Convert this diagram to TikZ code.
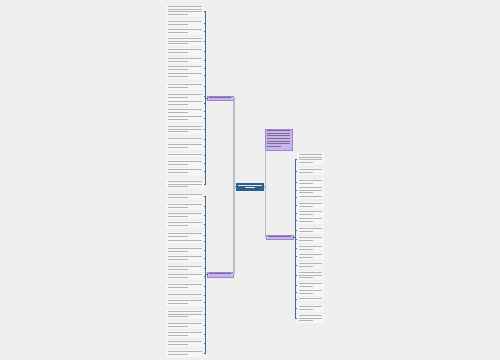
\documentclass[tikz,border=0pt]{standalone}
\usepackage{xcolor}
\usepackage{tikz}
\usetikzlibrary{calc}

\definecolor{bgc}{HTML}{EFEFEF}
\definecolor{rootc}{HTML}{2E5E8C}
\definecolor{brc}{HTML}{C9B5EE}
\definecolor{brline}{HTML}{9C84D4}
\definecolor{linkc}{HTML}{B2BECC}
\definecolor{leafl}{HTML}{46698A}
\definecolor{txtc}{HTML}{B4B4B4}
\definecolor{brtxt}{HTML}{7A6A98}

% unreadable text lines drawn as bars
\newcommand{\bars}[5]{%
  \foreach \k in {1,...,#2} {
    \pgfmathsetmacro\bw{(\k==#2 && #2>1) ? (#3)*0.6 : (#3)}
    \fill[#4] ($(#1.north west)+(#5,{1.2+2.6*(\k-1)})$) rectangle ++(\bw,0.8);
  }
}
\newcommand{\leafbox}[5]{%
  \node[leaf, minimum width=#4, minimum height={#5*2.6+1.4}] (#1) at (#2,#3) {};
  \bars{#1}{#5}{#4-3.5}{txtc}{1.5}
}

\begin{document}
\begin{tikzpicture}[x=1pt, y=-1pt, inner sep=0pt, outer sep=0pt]
\tikzset{
  leaf/.style={anchor=north west, rectangle, fill=white!45!bgc},
  root/.style={rectangle, fill=rootc, minimum width=28, minimum height=8},
  branch/.style={rectangle, fill=brc, draw=brline, line width=0.4pt, minimum width=26, minimum height=4.5},
  link/.style={draw=linkc, line width=1.4pt},
  leafline/.style={draw=leafl, line width=0.6pt}
}
\fill[bgc] (0,0) rectangle (500,360);

\node[root] (root) at (250,187) {};
\fill[white!85!rootc] ($(root.north west)+(2,1.6)$) rectangle ++(24,0.9);
\fill[white!85!rootc] ($(root.north west)+(9,4.4)$) rectangle ++(10,0.9);

\node[branch] (bl1) at (220,98) {};
\node[branch] (bl2) at (220,274.5) {};
\node[branch, minimum width=27, minimum height=21] (br1) at (278.2,139.5) {};
\node[branch, minimum width=27] (br2) at (279.5,237) {};
\bars{bl1}{1}{22}{brtxt}{2}
\bars{bl2}{1}{22}{brtxt}{2}
\bars{br1}{7}{23}{brtxt}{2}
\bars{br2}{1}{23}{brtxt}{2}

\draw[link] (root.west) -- ++(-2,0) |- (bl1.east);
\draw[link] (root.west) -- ++(-2,0) |- (bl2.east);
\draw[link] (root.east) -- ++(1.5,0) |- (br1.south west);
\draw[link] (root.east) -- ++(1.5,0) |- (br2.west);

% left upper column
\foreach \y/\n [count=\i] in {5/4, 20/2, 28/2, 37/3, 48/2, 57/2, 65/2, 72/2, 83/2, 93/2,
  100/2, 108/2, 115/2, 125/3, 137/1, 143/2, 153/1, 160/2, 168/2, 180/3} {
  \leafbox{la\i}{166}{\y}{38}{\n}
  \draw[leafline] (bl1.west) -- ++(-2,0) |- (la\i.east);
}

% left lower column
\foreach \y/\n [count=\i] in {193/2, 203/2, 212/2, 221/2, 232/2, 239/1, 247/2, 255/2, 265/2,
  273/2, 283/2, 293/1, 299/2, 310/3, 322/2, 331/2, 340/2, 350/2} {
  \leafbox{lb\i}{166}{\y}{38}{\n}
  \draw[leafline] (bl2.west) -- ++(-2,0) |- (lb\i.east);
}

% right column
\foreach \y/\n [count=\i] in {153/4, 168/2, 179/2, 186/3, 195/1, 202/2, 210/2, 217/2, 227/2,
  236/2, 245/2, 253/2, 262/2, 271/3, 282/2, 289/2, 297/1, 305/2, 314/3} {
  \leafbox{lc\i}{297}{\y}{27}{\n}
  \draw[leafline] (br2.east) -- ++(2,0) |- (lc\i.west);
}
\end{tikzpicture}
\end{document}
